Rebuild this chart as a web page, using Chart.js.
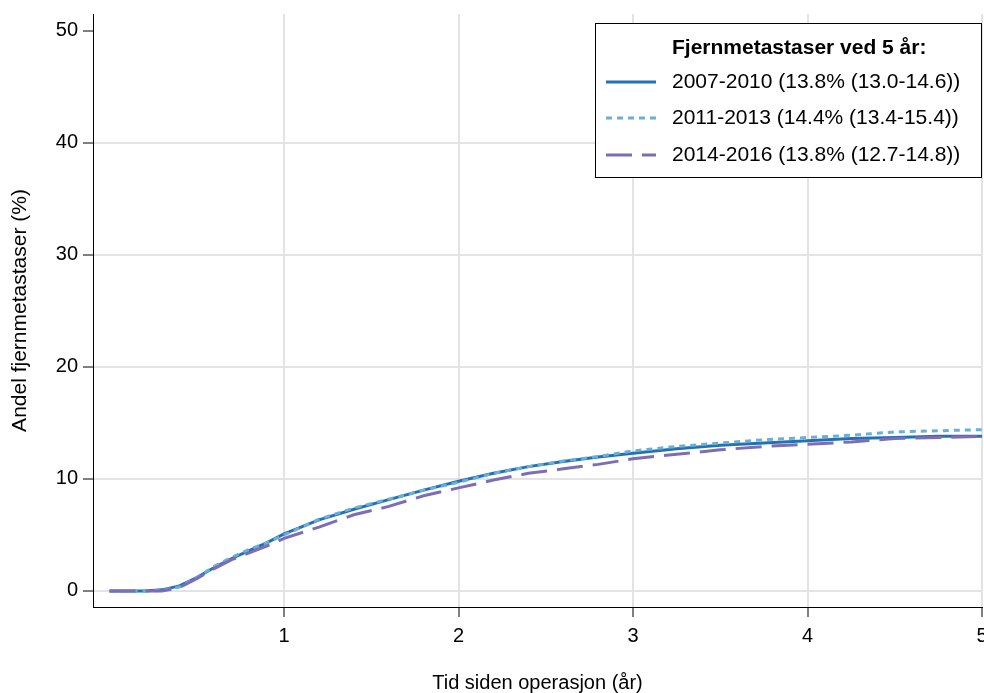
<!DOCTYPE html>
<html>
<head>
<meta charset="utf-8">
<script src="https://cdn.jsdelivr.net/npm/chart.js@4/dist/chart.umd.min.js"></script>
<style>
  html, body { margin: 0; padding: 0; background: #fff; overflow: hidden; }
  #wrap { width: 984px; height: 693px; }
</style>
</head>
<body>
<div id="wrap"><canvas id="canvas" width="984" height="693"></canvas></div>
<script>
'use strict';

// tid siden operasjon (år)
var years = [0, 0.1, 0.2, 0.3, 0.4, 0.5, 0.6, 0.7, 0.8, 0.9, 1.0, 1.2, 1.4, 1.6, 1.8,
	2.0, 2.2, 2.4, 2.6, 2.8, 3.0, 3.25, 3.5, 3.75, 4.0, 4.25, 4.5, 4.75, 5.0];

// andel fjernmetastaser (%) per periode
var p2007 = [0, 0, 0, 0.1, 0.45, 1.2, 2.1, 2.9, 3.6, 4.3, 5.1, 6.35, 7.3, 8.15, 9.0,
	9.8, 10.5, 11.1, 11.55, 11.95, 12.3, 12.7, 13.0, 13.2, 13.4, 13.6, 13.7, 13.8, 13.8];
var p2011 = [0, 0, 0, 0.05, 0.35, 1.2, 2.2, 3.0, 3.7, 4.3, 5.0, 6.4, 7.4, 8.2, 9.0,
	9.7, 10.5, 11.1, 11.6, 12.0, 12.5, 12.9, 13.2, 13.5, 13.7, 13.9, 14.2, 14.3, 14.4];
var p2014 = [0, 0, 0, 0, 0.3, 1.1, 2.0, 2.8, 3.4, 4.0, 4.7, 5.7, 6.8, 7.55, 8.5,
	9.2, 9.9, 10.5, 10.9, 11.3, 11.8, 12.2, 12.6, 12.9, 13.1, 13.3, 13.6, 13.7, 13.8];

var seriesLabels = [
	'2007-2010 (13.8% (13.0-14.6))',
	'2011-2013 (14.4% (13.4-15.4))',
	'2014-2016 (13.8% (12.7-14.8))'
];
var legendTitle = 'Fjernmetastaser ved 5 år:';

var xTicks = [1, 2, 3, 4, 5];
var yTicks = [0, 10, 20, 30, 40, 50];

var FONT = "'Liberation Sans', Arial, sans-serif";

function points(values) {
	var pts = [];
	for (var i = 0; i < years.length; i++) {
		pts.push({ x: years[i], y: values[i] });
	}
	return pts;
}

// legend box drawn inside the plot, top right
var legendBox = {
	id: 'legendBox',
	afterDraw: function (chart) {
		var ctx = chart.ctx;
		var left = 595, top = 23, right = 982, bottom = 178;
		ctx.save();
		ctx.fillStyle = '#fff';
		ctx.fillRect(left, top, right - left, bottom - top);
		ctx.strokeStyle = '#000';
		ctx.lineWidth = 1;
		ctx.strokeRect(left + 0.5, top + 0.5, right - left - 1, bottom - top - 1);

		ctx.fillStyle = '#000';
		ctx.textBaseline = 'middle';
		ctx.textAlign = 'left';
		ctx.font = 'bold 21px ' + FONT;
		ctx.fillText(legendTitle, 672, 48);

		var rows = [82, 118, 155];
		ctx.font = '21px ' + FONT;
		chart.data.datasets.forEach(function (ds, i) {
			var y = rows[i];
			ctx.save();
			ctx.strokeStyle = ds.borderColor;
			ctx.lineWidth = ds.borderWidth;
			ctx.setLineDash(ds.borderDash || []);
			ctx.beginPath();
			ctx.moveTo(606, y);
			ctx.lineTo(656, y);
			ctx.stroke();
			ctx.restore();
			ctx.fillStyle = '#000';
			ctx.fillText(seriesLabels[i], 672, y);
		});
		ctx.restore();
	}
};

var config = {
	type: 'line',
	data: {
		datasets: [{
			label: seriesLabels[0],
			data: points(p2007),
			borderColor: '#2171b5',
			borderWidth: 3,
			order: 3
		}, {
			label: seriesLabels[1],
			data: points(p2011),
			borderColor: '#6baed6',
			borderWidth: 3,
			borderDash: [6, 5],
			order: 2
		}, {
			label: seriesLabels[2],
			data: points(p2014),
			borderColor: '#7d6db4',
			borderWidth: 3,
			borderDash: [26, 10],
			order: 1
		}]
	},
	options: {
		responsive: false,
		animation: false,
		layout: { padding: { top: 14, right: 2, left: 0, bottom: 0 } },
		elements: {
			point: { radius: 0 },
			line: { tension: 0, fill: false }
		},
		plugins: {
			legend: { display: false },
			tooltip: { enabled: false }
		},
		scales: {
			x: {
				type: 'linear',
				min: -0.095,
				max: 5,
				afterBuildTicks: function (scale) {
					scale.ticks = xTicks.map(function (v) { return { value: v }; });
				},
				afterFit: function (scale) {
					scale.height = 86;
					scale.paddingLeft = 0;
					scale.paddingRight = 0;
				},
				grid: {
					color: '#e3e3e3',
					lineWidth: 2,
					tickColor: '#000',
					tickWidth: 1,
					tickLength: 10
				},
				border: { color: '#000', width: 1 },
				ticks: {
					color: '#000',
					font: { size: 20, family: FONT },
					padding: 7,
					maxRotation: 0
				},
				title: {
					display: true,
					text: 'Tid siden operasjon (år)',
					color: '#000',
					font: { size: 20, family: FONT, lineHeight: 1 },
					padding: { top: 0, bottom: 0 }
				}
			},
			y: {
				min: -1.43,
				max: 51.5,
				afterBuildTicks: function (scale) {
					scale.ticks = yTicks.map(function (v) { return { value: v }; });
				},
				afterFit: function (scale) {
					scale.width = 93;
					scale.paddingTop = 0;
					scale.paddingBottom = 0;
				},
				grid: {
					color: function (c) {
						return c.tick && c.tick.value === 50 ? 'rgba(0,0,0,0)' : '#e3e3e3';
					},
					lineWidth: 2,
					tickColor: '#000',
					tickWidth: 1,
					tickLength: 10
				},
				border: { color: '#000', width: 1 },
				ticks: {
					color: '#000',
					font: { size: 20, family: FONT },
					padding: 5
				},
				title: {
					display: true,
					text: 'Andel fjernmetastaser (%)',
					color: '#000',
					font: { size: 21, family: FONT, lineHeight: 1.2 },
					padding: { top: 8, bottom: 0 }
				}
			}
		}
	},
	plugins: [legendBox]
};

var ctx = document.getElementById('canvas').getContext('2d');
window.mychart = new Chart(ctx, config);
</script>
</body>
</html>
